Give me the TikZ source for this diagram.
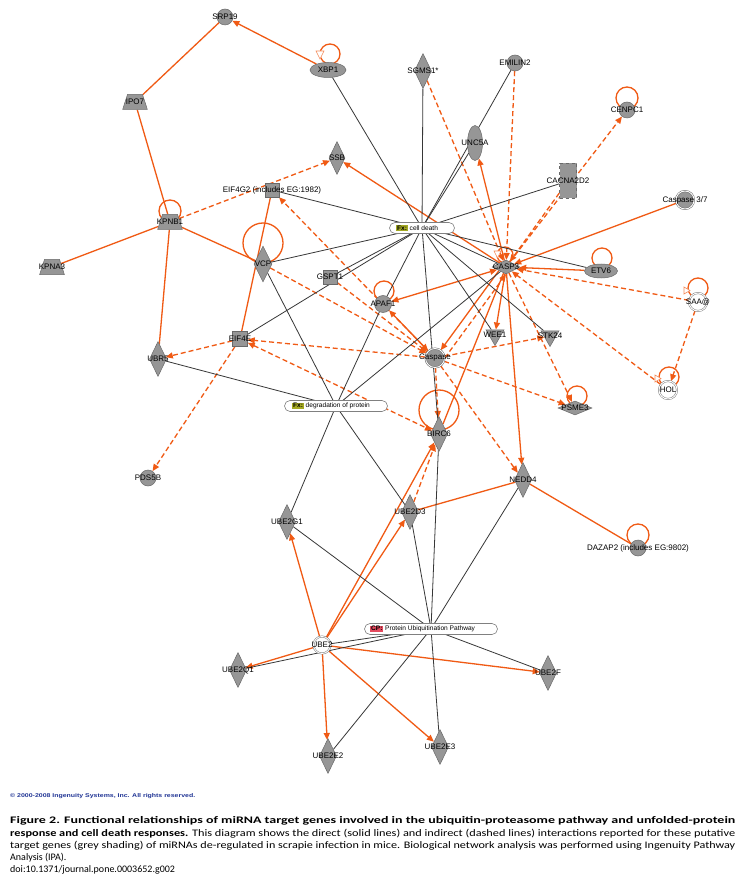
\documentclass[tikz,border=0pt]{standalone}
\usepackage{fontspec}
\setmainfont{Liberation Sans}
\newfontfamily\capfont{Carlito}
\usepackage{graphicx}
\usetikzlibrary{arrows.meta,shapes.geometric,calc}
\definecolor{orng}{RGB}{240,90,20}
\definecolor{lnk}{RGB}{55,55,55}
\definecolor{gfill}{RGB}{150,150,150}
\definecolor{gdraw}{RGB}{105,105,105}
\definecolor{fxcol}{RGB}{165,170,35}
\definecolor{cpcol}{RGB}{228,75,95}
\definecolor{cpblue}{RGB}{35,55,150}
\pgfdeclarelayer{bg}
\pgfdeclarelayer{paper}
\pgfsetlayers{paper,bg,main}
\newcommand\mytag[2]{{\setlength\fboxsep{0.7pt}\colorbox{#1}{\bfseries #2}}}
\tikzset{
 gene/.style={fill=gfill, draw=gdraw, line width=0.5pt, inner sep=0pt},
 gcirc/.style={gene, circle, minimum size=16pt},
 gdcirc/.style={gene, circle, minimum size=18pt, double=white, double distance=0.9pt},
 wdcirc/.style={gene, fill=white, circle, minimum size=18pt, double=white, double distance=0.9pt, draw=gray},
 gdiam/.style={gene, diamond, minimum width=17pt, minimum height=35pt},
 hdiam/.style={gene, diamond, minimum width=#1, minimum height=14pt},
 gsq/.style={gene, rectangle, minimum size=14pt},
 gtrap/.style={gene, trapezium, trapezium left angle=72, trapezium right angle=72, minimum width=16pt, minimum height=15pt, inner sep=1pt},
 gtri/.style={gene, regular polygon, regular polygon sides=3, shape border rotate=180, minimum size=21pt},
 gell/.style 2 args={gene, ellipse, minimum width=#1, minimum height=#2},
 lbl/.style={font=\fontsize{8}{9}\selectfont, text=black, inner sep=0pt},
 boxtxt/.style={font=\fontsize{6.6}{7}\selectfont, text=black, inner sep=0pt},
 pill/.style={draw=gray, fill=white, rounded corners=5.5pt, minimum height=11pt, inner sep=0pt, line width=0.6pt},
 dir/.style={draw=orng, line width=1.3pt},
 ind/.style={draw=orng, line width=1.3pt, dash pattern=on 5pt off 3pt},
 rel/.style={draw=lnk, line width=0.8pt},
 tip/.style={-{Triangle[length=7pt,width=6pt]}},
 tips2/.style={{Triangle[length=7pt,width=6pt]}-{Triangle[length=7pt,width=6pt]}},
 openarr/.style={draw=orng!70, fill=white, line width=0.6pt},
 captxt/.style={font=\capfont\fontsize{10}{12}\selectfont, text=black, inner sep=0pt, anchor=west},
}
\begin{document}
\begin{tikzpicture}[x=1pt,y=-1pt]
\begin{pgfonlayer}{paper}
\fill[white] (0,0) rectangle (742,882);
\end{pgfonlayer}
\useasboundingbox (0,0) rectangle (742,882);
% ---- genes
\node[gcirc, label={[lbl]center:SRP19}] (srp) at (225,17) {};
\node[gell={36pt}{15pt}, label={[lbl]center:XBP1}] (xbp) at (328,70) {};
\node[gtrap, label={[lbl]center:IPO7}] (ipo) at (135,102) {};
\node[gdiam, label={[lbl]center:SGMS1*}] (sgms) at (423,71) {};
\node[gcirc, label={[lbl]center:EMILIN2}] (emil) at (515,63) {};
\node[gcirc, label={[lbl]center:CENPC1}] (cenp) at (627,110) {};
\node[gell={15pt}{35pt}, label={[lbl]center:UNC5A}] (unc) at (475,143) {};
\node[gdiam, minimum width=16pt, minimum height=33pt, label={[lbl]center:SSB}] (ssb) at (337,158) {};
\node[gsq, label={[lbl]center:EIF4G2 (includes EG:1982)}] (eifg) at (272,190) {};
\node[gene, rectangle, minimum width=17pt, minimum height=35pt, dashed, label={[lbl]center:CACNA2D2}] (cacna) at (568,181) {};
\node[gdcirc, label={[lbl]center:Caspase 3/7}] (c37) at (685,200) {};
\node[gtrap, label={[lbl]center:KPNB1}] (kpnb) at (170,222) {};
\node[gtrap, label={[lbl]center:KPNA3}] (kpna) at (52,267) {};
\node[gdiam, minimum width=18pt, minimum height=36pt, label={[lbl]center:VCP}] (vcp) at (263,264) {};
\node[gsq, label={[lbl]center:GSPT1}] (gspt) at (330,277) {};
\node[hdiam=28pt, label={[lbl]center:CASP3}] (casp3) at (506,267) {};
\node[gell={33pt}{14pt}, label={[lbl]center:ETV6}] (etv) at (601,271) {};
\node[wdcirc, label={[lbl]center:SAA@}] (saa) at (698,302) {};
\node[gcirc, minimum size=17pt, label={[lbl]center:APAF1}] (apaf) at (383,304) {};
\node[gsq, minimum size=15pt, label={[lbl]center:EIF4E}] (eife) at (240,339) {};
\node[gdiam, label={[lbl]center:UBR5}] (ubr) at (158,359) {};
\node[gdcirc, minimum size=19pt, label={[lbl]center:Caspase}] (casp) at (435,358) {};
\node[gtri, label={[lbl]center:WEE1}] (wee) at (495,335) {};
\node[gtri, label={[lbl]center:STK24}] (stk) at (550,336) {};
\node[wdcirc, label={[lbl]center:HOL}] (hol) at (668,390) {};
\node[hdiam=34pt, label={[lbl]center:PSME3}] (psme) at (575,408) {};
\node[gdiam, label={[lbl]center:BIRC6}] (birc) at (439,434) {};
\node[gcirc, label={[lbl]center:PDS5B}] (pds) at (148,478) {};
\node[gdiam, label={[lbl]center:NEDD4}] (nedd) at (523,480) {};
\node[gdiam, label={[lbl]center:UBE2G1}] (ube2g1) at (287,522) {};
\node[gdiam, label={[lbl]center:UBE2D3}] (ube2d3) at (410,512) {};
\node[gcirc, label={[lbl]center:DAZAP2 (includes EG:9802)}] (dazap) at (638,548) {};
\node[wdcirc, minimum size=17pt, label={[lbl]center:UBE2}] (ube2) at (322,645) {};
\node[gdiam, label={[lbl]center:UBE2Q1}] (ube2q1) at (238,670) {};
\node[gdiam, label={[lbl]center:UBE2F}] (ube2f) at (548,673) {};
\node[gdiam, label={[lbl]center:UBE2E2}] (ube2e2) at (328,756) {};
\node[gdiam, label={[lbl]center:UBE2E3}] (ube2e3) at (440,747) {};
% ---- function / pathway boxes
\node[pill, minimum width=65pt] (celld) at (422,228) {};
\node[boxtxt, anchor=west] (celldT) at ([xshift=7pt]celld.west) {\mytag{fxcol}{Fx:}\hspace{2pt}cell death};
\node[pill, minimum width=103pt] (degr) at (336,406) {};
\node[boxtxt, anchor=west] (degrT) at ([xshift=8pt]degr.west) {\mytag{fxcol}{Fx:}\hspace{2pt}degradation of protein};
\node[pill, minimum width=133pt] (cp) at (431,629) {};
\node[boxtxt, anchor=west] (cpT) at ([xshift=6pt]cp.west) {\mytag{cpcol}{CP:}\hspace{2pt}Protein Ubiquitination Pathway};
% ---- edges
\begin{pgfonlayer}{bg}
% self loops
\draw[dir] ($(kpnb)+(0,-11)$) circle[radius=11pt];
\draw[dir] ($(xbp)+(2,-16)$) circle[radius=10pt];
\draw[dir] ($(vcp)+(0,-21)$) circle[radius=20pt];
\draw[dir] ($(apaf)+(1,-13)$) circle[radius=10pt];
\draw[dir] ($(cenp)+(0,-12)$) circle[radius=11pt];
\draw[dir] ($(etv)+(1,-13)$) circle[radius=10pt];
\draw[dir] ($(casp3)+(-1,-12)$) circle[radius=8pt];
\draw[dir] ($(saa)+(0,-14)$) circle[radius=10pt];
\draw[dir] ($(hol)+(1,-13)$) circle[radius=10pt];
\draw[dir] ($(psme)+(2,-12)$) circle[radius=10pt];
\draw[dir] ($(birc)+(0,-24)$) circle[radius=20pt];
\draw[dir] ($(dazap)+(0,-13)$) circle[radius=11pt];
% direct (solid orange)
\draw[dir,tip] (xbp) -- (srp);
\draw[dir] (srp) -- (ipo);
\draw[dir] (ipo) -- (kpnb);
\draw[dir] (kpnb) -- (kpna);
\draw[dir] (kpnb) -- (ubr);
\draw[dir] (kpnb) -- (vcp);
\draw[dir] (eifg) -- (eife);
\draw[dir,tip] (casp3) -- (ssb);
\draw[dir,tip] (casp3) -- (unc);
\draw[dir,tip] (c37) -- (casp3);
\draw[dir,tip] (etv) -- (casp3);
\draw[dir,tips2] (casp3) -- (apaf);
\draw[dir,tip] (casp3.south west) -- (casp);
\draw[dir,tips2] (apaf) -- (casp);
\draw[dir,tip] (casp3) -- (wee);
\draw[dir,tip] (casp3) -- (nedd);
\draw[dir] (birc) -- (casp3);
\draw[dir,tip] (ube2) -- (birc);
\draw[dir,tip] (ube2) -- (ube2d3);
\draw[dir] (ube2d3) -- (nedd);
\draw[dir] (nedd) -- (dazap);
\draw[dir,tip] (ube2) -- (ube2g1);
\draw[dir,tip] (ube2) -- (ube2q1);
\draw[dir,tip] (ube2) -- (ube2e2);
\draw[dir,tip] (ube2) -- (ube2e3);
\draw[dir,tip] (ube2) -- (ube2f);
% indirect (dashed orange)
\draw[ind,tip] (kpnb) -- (ssb);
\draw[ind,tip] (casp) -- (eifg);
\draw[ind,tip] (vcp) -- (casp);
\draw[ind,tip] (gspt) -- (casp);
\draw[ind,tip] (casp) -- (eife);
\draw[ind,tip] (eife) -- (ubr);
\draw[ind,tip] (eife) -- (pds);
\draw[ind,tips2] (eife) -- (birc);
\draw[ind,tip] (sgms) -- (casp3);
\draw[ind,tip] (emil) -- (casp3);
\draw[ind,tip] (casp3) -- (cenp);
\draw[ind,tip] (cacna) -- (casp3);
\draw[ind,tip] (saa) -- (casp3);
\draw[ind,tip] (hol) -- (casp3);
\draw[ind,tip] (saa) -- (hol);
\draw[ind,tip] (casp3) -- (psme);
\draw[ind,tip] (casp) -- (psme);
\draw[ind,tip] (casp) -- (nedd);
\draw[ind,tip] (casp) -- (stk);
\draw[ind,tip] (casp) -- (birc);
\draw[ind,tip] (ube2d3) -- (birc);
\draw[ind,tip] (casp.east) -- (casp3.south);
% relations to function boxes (black)
\foreach \g in {xbp,sgms,unc,emil,cacna,etv,stk,wee,birc,apaf,gspt,eife,vcp,eifg,casp3}
  \draw[rel] (celld.center) -- (\g);
\foreach \g in {ubr,vcp,apaf,casp3,ube2g1,ube2d3}
  \draw[rel] (degr.center) -- (\g);
\foreach \g in {birc,ube2e3,ube2d3,nedd,ube2f,ube2e2,ube2g1,ube2q1,ube2}
  \draw[rel] (cp.center) -- (\g);
\end{pgfonlayer}
% open arrowheads on loops
\draw[openarr] ($(xbp)+(-12,-19)$) -- ++(8,0) -- ++(-4,8) -- cycle;
\draw[openarr] ($(casp3)+(-12,-16)$) -- ++(7,0) -- ++(-3.5,7) -- cycle;
\draw[openarr] ($(saa)+(-14,-15)$) -- ++(0,7) -- ++(6,-3.5) -- cycle;
\draw[openarr] ($(hol)+(-13,-15)$) -- ++(0,7) -- ++(6,-3.5) -- cycle;
% ---- caption
\node[inner sep=0pt, anchor=west, text=cpblue, font=\fontsize{5.5}{6}\selectfont\bfseries] (copy) at (10,796) {\resizebox{185pt}{\height}{\textcopyright\ 2000-2008 Ingenuity Systems, Inc. All rights reserved.}};
\node[captxt] (cap1) at (10,821) {\resizebox{725pt}{\height}{\bfseries Figure 2. Functional relationships of miRNA target genes involved in the ubiquitin-proteasome pathway and unfolded-protein}};
\node[captxt] (cap2) at (10,833.5) {\resizebox{725pt}{\height}{\textbf{response and cell death responses.} This diagram shows the direct (solid lines) and indirect (dashed lines) interactions reported for these putative}};
\node[captxt] (cap3) at (10,846) {\resizebox{725pt}{\height}{target genes (grey shading) of miRNAs de-regulated in scrapie infection in mice. Biological network analysis was performed using Ingenuity Pathway}};
\node[captxt] (cap4) at (10,858) {Analysis (IPA).};
\node[captxt] (cap5) at (10,869.5) {doi:10.1371/journal.pone.0003652.g002};
\end{tikzpicture}
\end{document}
